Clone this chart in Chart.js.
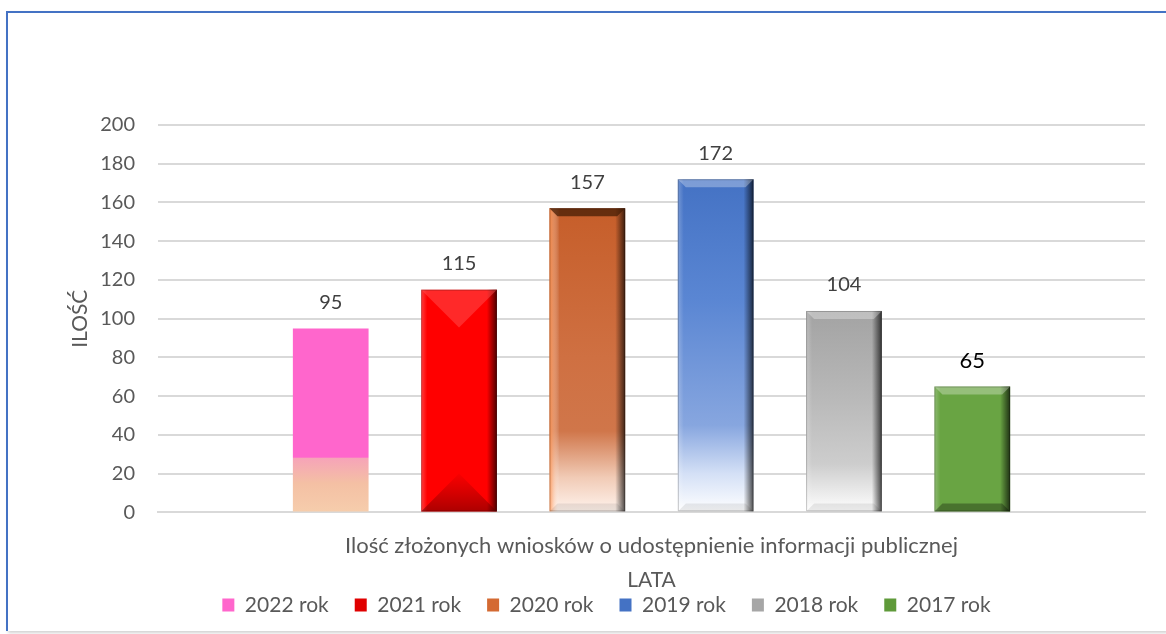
<!DOCTYPE html>
<html>
<head>
<meta charset="utf-8">
<script src="https://cdn.jsdelivr.net/npm/chart.js@4"></script>
<style>
  html, body { margin: 0; padding: 0; background: #fff; }
  #wrap { position: relative; width: 1166px; height: 634px; overflow: hidden; }
  #frame {
    position: absolute; left: 6px; top: 11px; right: 0; bottom: 3px;
    border-left: 2px solid #4472c4; border-top: 2px solid #4472c4;
    box-shadow: 2px 2px 3px rgba(0,0,0,0.18);
  }
  #chart { position: absolute; left: 0; top: 0; }
</style>
</head>
<body>
<div id="wrap">
  <div id="frame"></div>
  <canvas id="chart" width="1166" height="634"></canvas>
</div>
<script>
const categories = ["Ilość złożonych wniosków o udostępnienie informacji publicznej"];
const years = ["2022 rok", "2021 rok", "2020 rok", "2019 rok", "2018 rok", "2017 rok"];
const values = [95, 115, 157, 172, 104, 65];
const yMin = 0;
const yMax = 200;
const yStep = 20;

const font = "Lato, 'Open Sans', sans-serif";
const textColor = "#595959";
const legendPad = 26;

// look of each bar (legend colour, bevel kind, label colour)
const looks = [
  { legend: "#ff66cc", bevel: "none", label: "#404040", labelSize: 20 },
  { legend: "#e00000", bevel: "pyramid", label: "#404040", labelSize: 20 },
  { legend: "#d46a32", bevel: "darktop", label: "#404040", labelSize: 20 },
  { legend: "#4472c4", bevel: "flat", label: "#404040", labelSize: 20 },
  { legend: "#a6a6a6", bevel: "flat", label: "#404040", labelSize: 20 },
  { legend: "#5f9a3a", bevel: "flat", label: "#000000", labelSize: 22 },
];

function vGrad(chart, stops) {
  const ys = chart.scales.y;
  const g = chart.ctx.createLinearGradient(0, ys.getPixelForValue(yMax), 0, ys.getPixelForValue(yMin));
  stops.forEach(([v, c]) => {
    const t = (yMax - v) / (yMax - yMin);
    g.addColorStop(Math.min(1, Math.max(0, t)), c);
  });
  return g;
}

const fills = [
  (c) => vGrad(c, [[95, "#ff66cc"], [28.5, "#ff66cc"], [28, "#f6a4b8"], [15, "#f4c0a4"], [0, "#f6cdac"]]),
  (c) => "#ff0000",
  (c) => vGrad(c, [[157, "#c65e2a"], [80, "#cf7042"], [42, "#d0764a"], [18, "#f1cbb6"], [0, "#fff4ee"]]),
  (c) => vGrad(c, [[172, "#4472c4"], [110, "#5a86d3"], [45, "#87a6df"], [20, "#d4e0f6"], [0, "#ffffff"]]),
  (c) => vGrad(c, [[104, "#a3a3a3"], [60, "#b8b8b8"], [25, "#cdcdcd"], [0, "#ffffff"]]),
  (c) => "#69a443",
];

const bevelPlugin = {
  id: "bevel",
  afterDatasetsDraw(chart) {
    const ctx = chart.ctx;
    chart.data.datasets.forEach((ds, i) => {
      const look = looks[i];
      if (look.bevel === "none") return;
      chart.getDatasetMeta(i).data.forEach((bar) => {
        const w = bar.width;
        const l = bar.x - w / 2, r = bar.x + w / 2, t = bar.y, b = bar.base;
        ctx.save();
        // right-hand dark edge
        const side = ctx.createLinearGradient(r - 10, 0, r, 0);
        side.addColorStop(0, "rgba(0,0,0,0)");
        side.addColorStop(1, "rgba(0,0,0,0.7)");
        ctx.fillStyle = side;
        ctx.fillRect(r - 10, t, 10, b - t);
        // left-hand light edge
        const lw = look.bevel === "darktop" ? 10 : 6;
        const lside = ctx.createLinearGradient(l, 0, l + lw, 0);
        lside.addColorStop(0, look.bevel === "darktop" ? "rgba(255,140,70,0.8)" : "rgba(255,255,255,0.25)");
        lside.addColorStop(1, "rgba(255,255,255,0)");
        ctx.fillStyle = lside;
        ctx.fillRect(l, t, lw, b - t);
        if (look.bevel === "pyramid") {
          const d = w / 2;
          ctx.fillStyle = "rgba(255,90,90,0.45)";
          ctx.beginPath();
          ctx.moveTo(l, t); ctx.lineTo(r, t); ctx.lineTo(bar.x, t + d); ctx.closePath(); ctx.fill();
          const bg = ctx.createLinearGradient(0, b - d, 0, b);
          bg.addColorStop(0, "rgba(120,0,0,0.05)");
          bg.addColorStop(1, "rgba(90,0,0,0.5)");
          ctx.fillStyle = bg;
          ctx.beginPath();
          ctx.moveTo(l, b); ctx.lineTo(r, b); ctx.lineTo(bar.x, b - d); ctx.closePath(); ctx.fill();
        } else {
          const d = 8;
          ctx.fillStyle = look.bevel === "darktop" ? "rgba(70,30,5,0.75)" : "rgba(255,255,255,0.3)";
          ctx.beginPath();
          ctx.moveTo(l, t); ctx.lineTo(r, t); ctx.lineTo(r - d, t + d); ctx.lineTo(l + d, t + d); ctx.closePath(); ctx.fill();
          ctx.fillStyle = i === 5 ? "rgba(0,0,0,0.3)" : "rgba(0,0,0,0.08)";
          ctx.beginPath();
          ctx.moveTo(l, b); ctx.lineTo(r, b); ctx.lineTo(r - d, b - d); ctx.lineTo(l + d, b - d); ctx.closePath(); ctx.fill();
        }
        ctx.strokeStyle = "rgba(0,0,0,0.22)";
        ctx.lineWidth = 1;
        ctx.strokeRect(l + 0.5, t + 0.5, w - 1, b - t - 1);
        ctx.restore();
      });
    });
  },
};

const valueLabels = {
  id: "valueLabels",
  afterDatasetsDraw(chart) {
    const ctx = chart.ctx;
    ctx.save();
    ctx.textAlign = "center";
    ctx.textBaseline = "middle";
    chart.data.datasets.forEach((ds, i) => {
      chart.getDatasetMeta(i).data.forEach((bar, j) => {
        ctx.font = looks[i].labelSize + "px " + font;
        ctx.fillStyle = looks[i].label;
        ctx.fillText(String(ds.data[j]), bar.x, bar.y - 26);
      });
    });
    ctx.restore();
  },
};

// pull the legend up close under the axis title
const legendLift = {
  id: "legendLift",
  afterLayout(chart) {
    const lg = chart.legend;
    const top = chart.scales.x.bottom + 12 - legendPad - 10.5;
    const dy = top - lg.top;
    lg.top += dy;
    lg.bottom += dy;
  },
};

new Chart(document.getElementById("chart"), {
  type: "bar",
  data: {
    labels: categories,
    datasets: years.map((y, i) => ({
      label: y,
      data: [values[i]],
      backgroundColor: (c) => (c.chart.chartArea ? fills[i](c.chart) : looks[i].legend),
      borderWidth: 0,
      categoryPercentage: 0.78,
      barPercentage: 0.59,
    })),
  },
  options: {
    responsive: false,
    animation: false,
    layout: { padding: { left: 68, right: 21, top: 125, bottom: -16 } },
    plugins: {
      legend: {
        position: "bottom",
        labels: {
          color: textColor,
          font: { family: font, size: 21 },
          boxWidth: 12,
          boxHeight: 13,
          padding: legendPad,
          generateLabels: (chart) =>
            chart.data.datasets.map((ds, i) => ({
              text: ds.label,
              fillStyle: looks[i].legend,
              strokeStyle: looks[i].legend,
              lineWidth: 0,
              fontColor: textColor,
              datasetIndex: i,
            })),
        },
      },
      tooltip: { enabled: false },
    },
    scales: {
      x: {
        grid: { display: false, drawTicks: false },
        border: { color: "#d9d9d9", width: 2 },
        ticks: { color: textColor, font: { family: font, size: 22 }, padding: 20 },
        title: {
          display: true,
          text: "LATA",
          color: textColor,
          font: { family: font, size: 21 },
          padding: { top: -11, bottom: 0 },
        },
      },
      y: {
        min: yMin,
        max: yMax,
        ticks: { stepSize: yStep, color: textColor, font: { family: font, size: 20 }, padding: 23 },
        grid: { color: "#d9d9d9", lineWidth: 2, drawTicks: false },
        border: { display: false },
        title: {
          display: true,
          text: "ILOŚĆ",
          color: textColor,
          font: { family: font, size: 21 },
          padding: { top: 0, bottom: -16 },
        },
      },
    },
  },
  plugins: [bevelPlugin, valueLabels, legendLift],
});
</script>
</body>
</html>
